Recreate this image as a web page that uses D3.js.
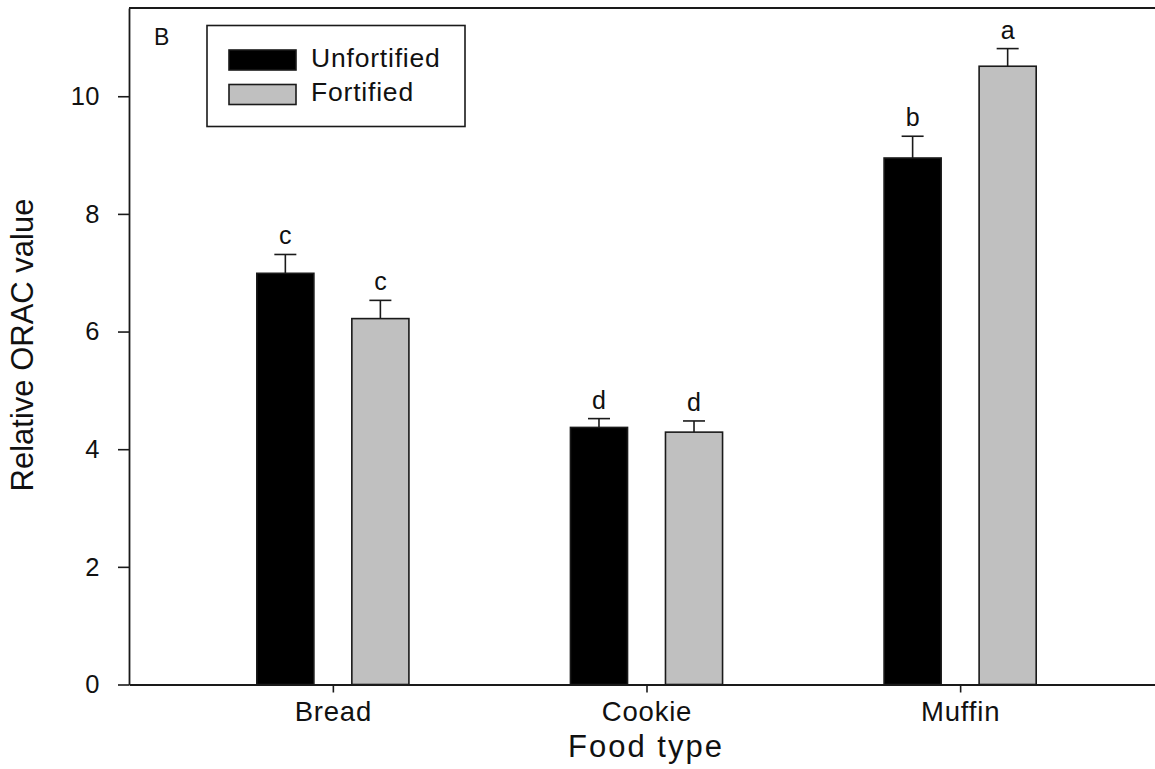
<!DOCTYPE html>
<html>
<head>
<meta charset="utf-8">
<script src="https://cdn.jsdelivr.net/npm/d3@7"></script>
<style>
  html, body { margin: 0; padding: 0; background: #fff; }
  svg { display: block; font-family: Arial, "Liberation Sans", sans-serif; }
</style>
</head>
<body>
<svg id="chart" width="1155" height="769"></svg>
<script>
// Relative ORAC value by food type, unfortified vs fortified (mean ± error)
const categories = ["Bread", "Cookie", "Muffin"];
const seriesNames = ["Unfortified", "Fortified"];
const unfortified = [6.99, 4.37, 8.95];
const fortified = [6.22, 4.29, 10.51];
const unfortifiedErr = [0.32, 0.15, 0.37];
const fortifiedErr = [0.31, 0.19, 0.30];
const unfortifiedLetters = ["c", "d", "b"];
const fortifiedLetters = ["c", "d", "a"];
const yTicks = [0, 2, 4, 6, 8, 10];

const svg = d3.select("#chart");
const fontStack = "Arial, 'Liberation Sans', sans-serif";

// Categories sit at positions 1..3 on a linear axis
const x = d3.scaleLinear().domain([0.35, 3.65]).range([129, 1164]);
const y = d3.scaleLinear().domain([0, 11.5]).range([684.5, 8]);

const barW = 0.182;     // bar width in category units
const offset = 0.1515;  // distance of each bar's centre from the category position

const series = [
  { name: seriesNames[0], values: unfortified, err: unfortifiedErr, letters: unfortifiedLetters, fill: "#000000", dir: -1 },
  { name: seriesNames[1], values: fortified, err: fortifiedErr, letters: fortifiedLetters, fill: "#c0c0c0", dir: 1 }
];

const axisColor = "#1a1a1a";

// Bars, error bars and significance letters
series.forEach(s => {
  const g = svg.append("g");
  categories.forEach((c, i) => {
    const cx = i + 1 + s.dir * offset;
    const x0 = x(cx - barW / 2), x1 = x(cx + barW / 2);
    const top = y(s.values[i]);
    const capY = y(s.values[i] + s.err[i]);
    const mid = x(cx);
    g.append("line")
      .attr("x1", mid).attr("x2", mid)
      .attr("y1", top).attr("y2", capY)
      .attr("stroke", "#1a1a1a").attr("stroke-width", 1.6);
    g.append("line")
      .attr("x1", mid - 11).attr("x2", mid + 11)
      .attr("y1", capY).attr("y2", capY)
      .attr("stroke", "#1a1a1a").attr("stroke-width", 1.6);
    g.append("rect")
      .attr("x", x0).attr("y", top)
      .attr("width", x1 - x0).attr("height", y(0) - top)
      .attr("fill", s.fill)
      .attr("stroke", "#1a1a1a").attr("stroke-width", 1.6);
    g.append("text")
      .attr("x", mid).attr("y", capY - 10)
      .attr("text-anchor", "middle")
      .attr("font-size", 25)
      .attr("fill", "#111")
      .text(s.letters[i]);
  });
});

// Y axis
const yAxis = d3.axisLeft(y).tickValues(yTicks).tickSize(11).tickSizeOuter(0)
  .tickPadding(18).tickFormat(d3.format("d"));
const gy = svg.append("g").attr("transform", `translate(${x.range()[0]},0)`).call(yAxis);
gy.select(".domain").attr("stroke", axisColor).attr("stroke-width", 1.8);
gy.selectAll(".tick line").attr("stroke", axisColor).attr("stroke-width", 1.6);
gy.selectAll(".tick text").attr("font-size", 25.5).attr("fill", "#111")
  .attr("font-family", fontStack).attr("letter-spacing", 0.5);

// X axis
const xAxis = d3.axisBottom(x).tickValues([1, 2, 3]).tickSize(8).tickSizeOuter(0).tickPadding(9)
  .tickFormat(d => categories[d - 1]);
const gx = svg.append("g").attr("transform", `translate(0,${y(0)})`).call(xAxis);
gx.select(".domain").attr("stroke", axisColor).attr("stroke-width", 1.8);
gx.selectAll(".tick line").attr("stroke", axisColor).attr("stroke-width", 1.6);
gx.selectAll(".tick text").attr("font-size", 27.5).attr("fill", "#111")
  .attr("font-family", fontStack).attr("letter-spacing", 0.8);

// Top frame line
svg.append("line")
  .attr("x1", x.range()[0]).attr("x2", x.range()[1])
  .attr("y1", y(11.5)).attr("y2", y(11.5))
  .attr("stroke", axisColor).attr("stroke-width", 1.8);

// Axis titles
svg.append("text")
  .attr("x", 646).attr("y", 757)
  .attr("text-anchor", "middle")
  .attr("font-size", 31)
  .attr("letter-spacing", 2)
  .attr("fill", "#111")
  .text("Food type");

svg.append("text")
  .attr("transform", "translate(33,345) rotate(-90)")
  .attr("text-anchor", "middle")
  .attr("font-size", 31)
  .attr("fill", "#111")
  .text("Relative ORAC value");

// Panel label
svg.append("text")
  .attr("x", 154).attr("y", 45)
  .attr("font-size", 23)
  .attr("fill", "#111")
  .text("B");

// Legend
const legend = svg.append("g");
legend.append("rect")
  .attr("x", 207).attr("y", 25.5)
  .attr("width", 258).attr("height", 101)
  .attr("fill", "#fff")
  .attr("stroke", "#1a1a1a").attr("stroke-width", 1.6);
series.forEach((s, i) => {
  const top = i === 0 ? 50 : 84.5;
  legend.append("rect")
    .attr("x", 229).attr("y", top)
    .attr("width", 67).attr("height", 20)
    .attr("fill", s.fill)
    .attr("stroke", "#1a1a1a").attr("stroke-width", 1.6);
  legend.append("text")
    .attr("x", 311).attr("y", i === 0 ? 67 : 101)
    .attr("font-size", 26.5)
    .attr("letter-spacing", 0.8)
    .attr("fill", "#111")
    .text(s.name);
});
</script>
</body>
</html>
